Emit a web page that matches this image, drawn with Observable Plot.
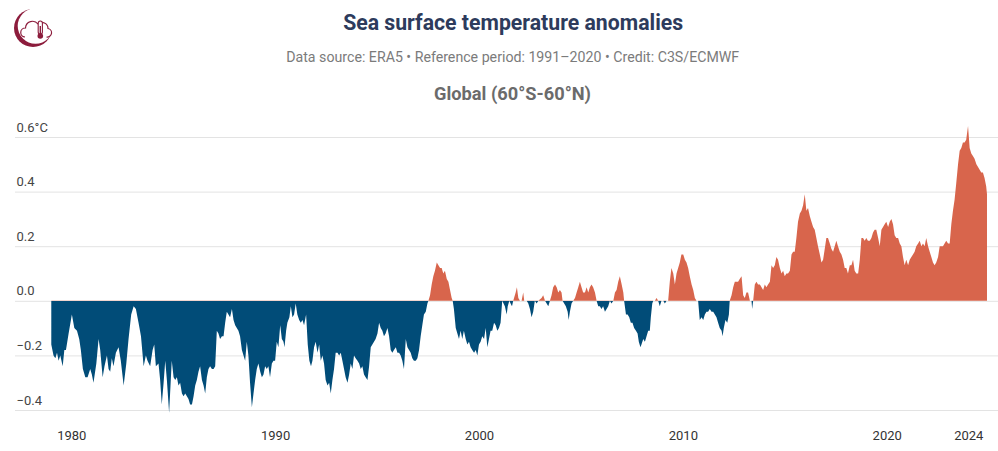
<!DOCTYPE html>
<html><head><meta charset="utf-8">
<script src="https://cdn.jsdelivr.net/npm/d3@7"></script>
<script src="https://cdn.jsdelivr.net/npm/@observablehq/plot@0.6"></script>
<style>
html,body{margin:0;padding:0;background:#fff;}
#wrap{position:relative;width:998px;height:451px;overflow:hidden;font-family:Roboto,sans-serif;}
.hd{position:absolute;left:28px;width:970px;text-align:center;white-space:nowrap;}
.hd span{display:inline-block;transform-origin:50% 50%;}
#title{top:11.5px;font-size:22px;line-height:22px;font-weight:700;color:#2d3b5c;}
#sub{top:50.4px;font-size:15px;line-height:15px;color:#7b7b7b;}
#panel{top:85px;font-size:18px;line-height:18px;font-weight:700;color:#6b6b6b;}
#chart{position:absolute;left:0;top:110px;}
#logo{position:absolute;left:0;top:0;}
</style></head>
<body>
<div id="wrap">
  <svg id="logo" width="70" height="60" viewBox="0 0 70 60">
    <circle cx="33" cy="28" r="19" fill="#8c1c3c"/>
    <circle cx="35.5" cy="26" r="17.8" fill="#fff"/>
    <path d="M25,37 a4.5,4.5 0 0 1 0.5,-9 a7,7 0 0 1 12.5,-4 a6,6 0 0 1 10,4.5 a4.2,4.2 0 0 1 -1.5,8.5" fill="none" stroke="#8c1c3c" stroke-width="1.2"/>
    <rect x="38.2" y="21" width="4.2" height="13" rx="2.1" fill="#fff" stroke="#8c1c3c" stroke-width="1.1"/>
    <rect x="39.6" y="26" width="1.4" height="9" fill="#8c1c3c"/>
    <circle cx="40.3" cy="36" r="2.8" fill="#8c1c3c"/>
  </svg>
  <div class="hd" id="title"><span data-w="340">Sea surface temperature anomalies</span></div>
  <div class="hd" id="sub"><span data-w="453">Data source: ERA5 • Reference period: 1991–2020 • Credit: C3S/ECMWF</span></div>
  <div class="hd" id="panel"><span data-w="157">Global (60°S-60°N)</span></div>
  <div id="chart"></div>
</div>
<script>
// Sea surface temperature anomaly (°C, 60°S–60°N, vs 1991–2020), [decimal year, anomaly]
const sst1979_1984 = [[1979.02,-0.16],[1979.13,-0.20],[1979.22,-0.21],[1979.30,-0.19],[1979.38,-0.22],[1979.46,-0.20],[1979.58,-0.24],[1979.66,-0.18],[1979.74,-0.18],[1979.87,-0.12],[1980.03,-0.05],[1980.15,-0.10],[1980.28,-0.11],[1980.39,-0.14],[1980.47,-0.18],[1980.57,-0.25],[1980.69,-0.28],[1980.80,-0.28],[1980.93,-0.25],[1981.01,-0.27],[1981.09,-0.30],[1981.23,-0.23],[1981.34,-0.14],[1981.42,-0.18],[1981.54,-0.28],[1981.63,-0.24],[1981.75,-0.20],[1981.83,-0.25],[1981.91,-0.26],[1981.99,-0.21],[1982.07,-0.24],[1982.19,-0.19],[1982.32,-0.17],[1982.43,-0.22],[1982.57,-0.31],[1982.70,-0.23],[1982.81,-0.14],[1982.94,-0.05],[1983.06,-0.02],[1983.17,-0.03],[1983.30,-0.08],[1983.42,-0.13],[1983.55,-0.24],[1983.66,-0.20],[1983.74,-0.22],[1983.87,-0.24],[1983.99,-0.18],[1984.07,-0.16],[1984.15,-0.24],[1984.28,-0.23]];
const sst1984_1990 = [[1984.36,-0.29],[1984.44,-0.38],[1984.53,-0.30],[1984.61,-0.22],[1984.69,-0.29],[1984.80,-0.41],[1984.93,-0.22],[1985.02,-0.28],[1985.10,-0.29],[1985.18,-0.28],[1985.26,-0.31],[1985.34,-0.30],[1985.43,-0.34],[1985.51,-0.35],[1985.59,-0.34],[1985.67,-0.35],[1985.75,-0.36],[1985.83,-0.38],[1985.92,-0.38],[1986.00,-0.35],[1986.08,-0.31],[1986.16,-0.29],[1986.24,-0.26],[1986.32,-0.24],[1986.41,-0.29],[1986.49,-0.31],[1986.57,-0.34],[1986.65,-0.28],[1986.73,-0.25],[1986.81,-0.24],[1986.90,-0.25],[1986.98,-0.25],[1987.06,-0.24],[1987.14,-0.11],[1987.22,-0.12],[1987.30,-0.14],[1987.39,-0.13],[1987.47,-0.13],[1987.55,-0.08],[1987.63,-0.04],[1987.71,-0.05],[1987.79,-0.06],[1987.88,-0.03],[1987.96,-0.07],[1988.04,-0.09],[1988.12,-0.10],[1988.20,-0.11],[1988.28,-0.13],[1988.37,-0.18],[1988.45,-0.20],[1988.53,-0.22],[1988.61,-0.15],[1988.69,-0.20],[1988.77,-0.30],[1988.86,-0.39],[1988.94,-0.34],[1989.02,-0.29],[1989.10,-0.25],[1989.18,-0.23],[1989.27,-0.26],[1989.35,-0.28],[1989.43,-0.27],[1989.51,-0.24],[1989.59,-0.25],[1989.67,-0.24],[1989.75,-0.28],[1989.84,-0.23],[1989.92,-0.22],[1990.00,-0.22],[1990.08,-0.15],[1990.16,-0.17],[1990.25,-0.09],[1990.33,-0.14],[1990.41,-0.15],[1990.46,-0.17],[1990.54,-0.11],[1990.60,-0.08],[1990.70,-0.06],[1990.77,-0.02],[1990.85,-0.06],[1990.93,-0.05],[1991.01,-0.01]];
const sst1991_1997 = [[1991.09,-0.05],[1991.18,-0.07],[1991.26,-0.08],[1991.34,-0.07],[1991.42,-0.09],[1991.52,-0.05],[1991.60,-0.16],[1991.68,-0.22],[1991.76,-0.24],[1991.83,-0.22],[1991.91,-0.17],[1991.99,-0.15],[1992.08,-0.19],[1992.16,-0.16],[1992.24,-0.22],[1992.32,-0.20],[1992.40,-0.23],[1992.48,-0.29],[1992.57,-0.31],[1992.65,-0.30],[1992.73,-0.34],[1992.81,-0.29],[1992.89,-0.25],[1992.97,-0.19],[1993.06,-0.19],[1993.14,-0.20],[1993.22,-0.19],[1993.30,-0.22],[1993.38,-0.25],[1993.46,-0.28],[1993.55,-0.30],[1993.63,-0.27],[1993.71,-0.23],[1993.79,-0.25],[1993.87,-0.20],[1993.95,-0.21],[1994.04,-0.22],[1994.12,-0.23],[1994.20,-0.25],[1994.28,-0.24],[1994.36,-0.27],[1994.44,-0.28],[1994.53,-0.29],[1994.61,-0.24],[1994.69,-0.17],[1994.77,-0.16],[1994.85,-0.15],[1994.93,-0.14],[1995.02,-0.12],[1995.10,-0.08],[1995.18,-0.10],[1995.26,-0.11],[1995.34,-0.13],[1995.42,-0.12],[1995.51,-0.10],[1995.59,-0.13],[1995.67,-0.18],[1995.75,-0.19],[1995.83,-0.18],[1995.92,-0.17],[1996.00,-0.19],[1996.08,-0.19],[1996.16,-0.20],[1996.24,-0.22],[1996.32,-0.25],[1996.41,-0.14],[1996.49,-0.17],[1996.57,-0.18],[1996.65,-0.19],[1996.73,-0.21],[1996.81,-0.22],[1996.90,-0.22],[1996.98,-0.21],[1997.06,-0.18],[1997.14,-0.13],[1997.22,-0.09],[1997.30,-0.05],[1997.39,-0.04],[1997.47,-0.01]];
const sst1997_2003 = [[1997.52,0.00],[1997.60,0.02],[1997.68,0.06],[1997.76,0.09],[1997.84,0.11],[1997.93,0.14],[1998.01,0.13],[1998.09,0.12],[1998.17,0.12],[1998.25,0.10],[1998.33,0.11],[1998.42,0.08],[1998.50,0.07],[1998.58,0.04],[1998.66,0.01],[1998.71,0.00],[1998.77,-0.03],[1998.86,-0.10],[1998.94,-0.12],[1999.02,-0.14],[1999.10,-0.11],[1999.18,-0.14],[1999.26,-0.11],[1999.35,-0.14],[1999.43,-0.16],[1999.51,-0.15],[1999.59,-0.17],[1999.67,-0.18],[1999.76,-0.19],[1999.84,-0.18],[1999.92,-0.20],[2000.00,-0.16],[2000.08,-0.15],[2000.16,-0.13],[2000.25,-0.14],[2000.33,-0.10],[2000.41,-0.17],[2000.49,-0.14],[2000.57,-0.11],[2000.65,-0.11],[2000.74,-0.08],[2000.82,-0.09],[2000.90,-0.11],[2000.98,-0.10],[2001.06,-0.08],[2001.14,0.00],[2001.27,-0.02],[2001.36,-0.05],[2001.41,-0.02],[2001.49,0.00],[2001.55,-0.01],[2001.62,-0.02],[2001.68,0.00],[2001.80,0.03],[2001.86,0.05],[2001.93,0.01],[2002.01,0.00],[2002.09,0.00],[2002.17,0.03],[2002.22,0.00],[2002.34,0.00],[2002.42,-0.01],[2002.50,-0.03],[2002.58,-0.06],[2002.66,-0.04],[2002.74,0.00],[2002.83,-0.01],[2002.91,0.00],[2003.07,0.01],[2003.15,0.02],[2003.24,0.00],[2003.32,-0.01],[2003.40,-0.02],[2003.48,0.00]];
const sst2003_2009 = [[2003.56,0.02],[2003.64,0.05],[2003.73,0.06],[2003.81,0.05],[2003.89,0.03],[2003.97,0.04],[2004.05,0.03],[2004.10,0.00],[2004.18,-0.01],[2004.26,-0.02],[2004.35,-0.04],[2004.40,-0.07],[2004.46,-0.04],[2004.54,-0.01],[2004.62,0.00],[2004.71,0.01],[2004.79,0.03],[2004.87,0.05],[2004.95,0.07],[2005.03,0.05],[2005.11,0.03],[2005.20,0.03],[2005.28,0.05],[2005.36,0.03],[2005.44,0.05],[2005.52,0.06],[2005.60,0.05],[2005.69,0.03],[2005.77,0.00],[2005.85,-0.02],[2005.93,-0.02],[2006.01,-0.03],[2006.09,-0.02],[2006.18,-0.04],[2006.26,-0.03],[2006.34,-0.02],[2006.42,0.00],[2006.50,-0.01],[2006.59,0.00],[2006.67,0.03],[2006.75,0.04],[2006.83,0.07],[2006.91,0.09],[2007.00,0.06],[2007.08,0.03],[2007.12,0.00],[2007.21,-0.05],[2007.29,-0.05],[2007.37,-0.06],[2007.45,-0.08],[2007.53,-0.08],[2007.61,-0.10],[2007.70,-0.11],[2007.78,-0.12],[2007.84,-0.15],[2007.92,-0.17],[2007.97,-0.16],[2008.06,-0.14],[2008.14,-0.15],[2008.22,-0.13],[2008.30,-0.11],[2008.38,-0.11],[2008.43,-0.06],[2008.50,-0.01],[2008.55,0.00],[2008.63,0.00],[2008.71,0.01],[2008.79,0.00],[2008.87,-0.02],[2008.95,0.00],[2009.04,0.00],[2009.12,-0.01],[2009.20,0.00],[2009.28,0.00]];
const sst2009_2014 = [[2009.36,0.07],[2009.44,0.12],[2009.53,0.10],[2009.61,0.06],[2009.69,0.10],[2009.77,0.12],[2009.85,0.14],[2009.93,0.17],[2010.02,0.17],[2010.10,0.15],[2010.18,0.14],[2010.26,0.12],[2010.34,0.09],[2010.43,0.06],[2010.51,0.04],[2010.59,0.01],[2010.67,0.00],[2010.75,0.00],[2010.83,-0.07],[2010.92,-0.06],[2011.00,-0.07],[2011.08,-0.05],[2011.16,-0.04],[2011.24,-0.04],[2011.32,-0.03],[2011.41,-0.04],[2011.49,-0.04],[2011.57,-0.05],[2011.65,-0.06],[2011.73,-0.08],[2011.81,-0.10],[2011.90,-0.11],[2011.95,-0.13],[2012.01,-0.10],[2012.09,-0.07],[2012.18,-0.08],[2012.26,-0.05],[2012.30,0.00],[2012.39,0.02],[2012.47,0.05],[2012.55,0.07],[2012.63,0.07],[2012.71,0.07],[2012.79,0.08],[2012.88,0.09],[2012.96,0.02],[2013.04,0.01],[2013.12,0.03],[2013.20,0.03],[2013.29,0.00],[2013.37,0.00],[2013.40,-0.03],[2013.45,0.00],[2013.53,0.06],[2013.61,0.07],[2013.69,0.06],[2013.78,0.06],[2013.86,0.05],[2013.94,0.04],[2014.02,0.06],[2014.10,0.05],[2014.18,0.06],[2014.27,0.07]];
const sst2014_2019 = [[2014.35,0.13],[2014.43,0.12],[2014.51,0.13],[2014.59,0.16],[2014.67,0.15],[2014.76,0.12],[2014.84,0.10],[2014.92,0.11],[2015.00,0.09],[2015.08,0.10],[2015.16,0.10],[2015.25,0.11],[2015.33,0.17],[2015.41,0.18],[2015.49,0.18],[2015.57,0.23],[2015.65,0.29],[2015.74,0.32],[2015.82,0.33],[2015.90,0.35],[2015.98,0.39],[2016.06,0.33],[2016.14,0.34],[2016.23,0.31],[2016.31,0.29],[2016.39,0.27],[2016.47,0.26],[2016.55,0.23],[2016.63,0.20],[2016.72,0.17],[2016.80,0.14],[2016.88,0.15],[2016.96,0.19],[2017.04,0.23],[2017.12,0.23],[2017.21,0.21],[2017.29,0.19],[2017.37,0.18],[2017.45,0.20],[2017.53,0.22],[2017.61,0.20],[2017.70,0.18],[2017.78,0.17],[2017.86,0.15],[2017.94,0.12],[2018.02,0.12],[2018.10,0.10],[2018.19,0.13],[2018.27,0.13],[2018.35,0.15],[2018.43,0.11],[2018.51,0.10],[2018.60,0.10],[2018.68,0.15],[2018.76,0.23],[2018.84,0.23],[2018.92,0.22],[2019.00,0.23],[2019.08,0.22],[2019.17,0.22]];
const sst2019_2024 = [[2019.25,0.23],[2019.33,0.25],[2019.41,0.26],[2019.49,0.26],[2019.58,0.23],[2019.66,0.20],[2019.74,0.26],[2019.82,0.27],[2019.90,0.28],[2019.98,0.29],[2020.07,0.27],[2020.15,0.29],[2020.23,0.30],[2020.31,0.28],[2020.39,0.24],[2020.47,0.23],[2020.56,0.23],[2020.64,0.21],[2020.72,0.20],[2020.80,0.16],[2020.88,0.13],[2020.96,0.15],[2021.05,0.13],[2021.13,0.15],[2021.21,0.16],[2021.29,0.17],[2021.37,0.18],[2021.45,0.20],[2021.54,0.21],[2021.62,0.22],[2021.70,0.20],[2021.78,0.21],[2021.86,0.20],[2021.94,0.23],[2022.03,0.20],[2022.11,0.18],[2022.19,0.16],[2022.27,0.14],[2022.35,0.13],[2022.43,0.14],[2022.52,0.16],[2022.60,0.20],[2022.68,0.20],[2022.76,0.20],[2022.84,0.21],[2022.92,0.22],[2023.01,0.21],[2023.09,0.21],[2023.17,0.28],[2023.25,0.33],[2023.33,0.37],[2023.41,0.43],[2023.50,0.50],[2023.58,0.55],[2023.66,0.56],[2023.74,0.58],[2023.82,0.58],[2023.90,0.59],[2023.99,0.64],[2024.07,0.56],[2024.15,0.54],[2024.23,0.53],[2024.31,0.52],[2024.40,0.50],[2024.48,0.49],[2024.56,0.48],[2024.64,0.47],[2024.72,0.47],[2024.80,0.45],[2024.88,0.42],[2024.92,0.39]];

const yTicks = [-0.4, -0.2, 0, 0.2, 0.4, 0.6];
const yTickLabels = ["−0.4", "−0.2", "0.0", "0.2", "0.4", "0.6°C"];
const xTicks = [1980, 1990, 2000, 2010, 2020, 2024];
const warmColor = "#d8654c";
const coldColor = "#014c78";

const series = [...sst1979_1984, ...sst1984_1990, ...sst1991_1997, ...sst1997_2003,
  ...sst2003_2009, ...sst2009_2014, ...sst2014_2019, ...sst2019_2024]
  .map(([year, anomaly]) => ({year, anomaly}));

const H = 341;
const plot = Plot.plot({
  width: 998, height: H,
  marginLeft: 15, marginRight: 0, marginTop: 27, marginBottom: 41,
  x: {domain: [1977.24, 2025.46], axis: null},
  y: {domain: [-0.4, 0.6], axis: null},
  style: {fontFamily: "Roboto, sans-serif", fontSize: "13px", color: "#333", background: "transparent", overflow: "visible"},
  marks: [
    Plot.ruleY(yTicks, {stroke: "#e3e3e3", strokeWidth: 1}),
    Plot.areaY(series, {x: "year", y1: 0, y2: "anomaly", fill: "url(#sstFill)", curve: "linear"}),
    Plot.text(yTicks, {y: d => d, text: (d, i) => yTickLabels[i], frameAnchor: "left", textAnchor: "start", dx: 1, dy: -10, fill: "#444", fontSize: 13}),
    Plot.axisX(xTicks, {tickSize: 0, tickPadding: 20, tickFormat: d => String(d), label: null, color: "#333", fontSize: 13})
  ]
});

const y0 = plot.scale("y").apply(0);
const ns = "http://www.w3.org/2000/svg";
const defs = document.createElementNS(ns, "defs");
const grad = document.createElementNS(ns, "linearGradient");
grad.setAttribute("id", "sstFill");
grad.setAttribute("gradientUnits", "userSpaceOnUse");
grad.setAttribute("x1", "0"); grad.setAttribute("y1", "0");
grad.setAttribute("x2", "0"); grad.setAttribute("y2", String(H));
[[y0 / H, warmColor], [y0 / H, coldColor]].forEach(([o, c]) => {
  const s = document.createElementNS(ns, "stop");
  s.setAttribute("offset", String(o));
  s.setAttribute("stop-color", c);
  grad.appendChild(s);
});
defs.appendChild(grad);
plot.insertBefore(defs, plot.firstChild);
document.getElementById("chart").appendChild(plot);

// condensed look: fit header texts to the reference widths
document.querySelectorAll(".hd span").forEach(sp => {
  const w = sp.getBoundingClientRect().width;
  const target = +sp.dataset.w;
  if (w > 0) sp.style.transform = `scaleX(${target / w})`;
});
</script>
</body></html>
